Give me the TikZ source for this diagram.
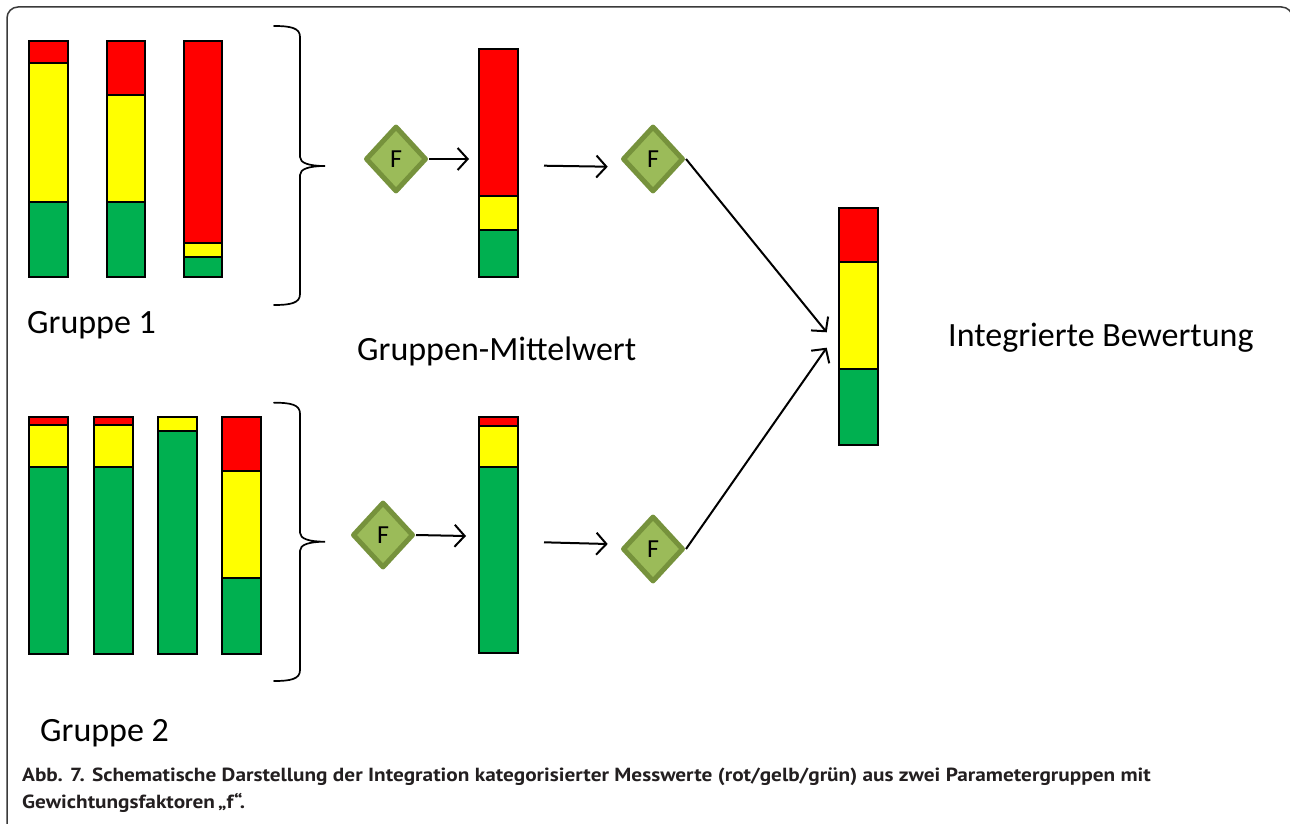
\documentclass[tikz,border=0pt]{standalone}
\usepackage{fontspec}
\setmainfont{Carlito}
\newfontfamily\capfont[FakeStretch=1.12]{PT Sans}
\usetikzlibrary{shapes.geometric,arrows.meta}
\definecolor{cred}{HTML}{FF0000}
\definecolor{cyel}{HTML}{FFFF00}
\definecolor{cgrn}{HTML}{00B050}
\definecolor{dfill}{HTML}{9BBB59}
\definecolor{ddraw}{HTML}{76923C}
\definecolor{framec}{HTML}{3A3A3A}
\definecolor{capc}{HTML}{231F20}
\newcommand\mkbar[7]{%
  \draw[seg,fill=cred] (#2,#4) rectangle (#3,#5);
  \draw[seg,fill=cyel] (#2,#5) rectangle (#3,#6);
  \draw[seg,fill=cgrn] (#2,#6) rectangle (#3,#7);
  \coordinate (#1) at ({(#2+#3)/2},{(#4+#7)/2});
}
\newcommand\mkbrace[3]{%
  \draw[brace] (274,#1) .. controls (291,#1) and (300,{#1+2}) .. (300,{#1+11})
    -- (300,{#2-9}) .. controls (300,{#2-3}) and (309,#2) .. (325,#2)
    .. controls (309,#2) and (300,{#2+3}) .. (300,{#2+9})
    -- (300,{#3-11}) .. controls (300,{#3-2}) and (291,#3) .. (274,#3);
}
\begin{document}
\begin{tikzpicture}[x=1pt,y=-1pt,
  seg/.style={draw=black,line width=1.8pt},
  fac/.style={diamond,draw=ddraw,fill=dfill,line width=5pt,line join=round,
    minimum width=61pt,minimum height=66pt,inner sep=0pt,
    font=\fontsize{26}{30}\selectfont},
  conn/.style={line width=2pt,-{Straight Barb[length=10pt,width=22pt]}},
  lbl/.style={anchor=base west,inner sep=0pt,font=\fontsize{34}{40}\selectfont},
  caplbl/.style={anchor=base west,inner sep=0pt,text=capc,
    font=\capfont\bfseries\fontsize{19}{22}\selectfont},
  brace/.style={line width=1.7pt,line cap=round}
]
\useasboundingbox (0,0) rectangle (1290,824);
\fill[white] (0,0) rectangle (1290,824);
\begin{scope}
\clip (0,0) rectangle (1290,824);
\draw[framec,line width=1.5pt,rounded corners=11pt] (7,900) -- (7,7) -- (1292.5,7) -- (1292.5,900);
\end{scope}

% Gruppe 1
\mkbar{b11}{29}{68}{40.7}{62.7}{202}{277}
\mkbar{b12}{107}{145}{40.7}{94.7}{202}{277}
\mkbar{b13}{184}{222}{40.7}{242.7}{257}{277}
\mkbrace{26}{166}{305}

% Gruppe 2
\mkbar{b21}{29.3}{68.3}{416.7}{425.3}{466.7}{654}
\mkbar{b22}{93.7}{132.7}{416.7}{425.3}{466.7}{654}
\mkbar{b23}{158}{196.7}{416.7}{416.7}{430.7}{654}
\mkbar{b24}{222.3}{261}{416.7}{470.7}{578.3}{654}
\mkbrace{402.7}{541.7}{681}

% Mittelwerte
\mkbar{m1}{479.3}{518.3}{49}{196.3}{230}{277.3}
\mkbar{m2}{479.3}{518.3}{416.7}{425.7}{466.7}{653.3}

% Integrierte Bewertung
\mkbar{ib}{839.3}{878.3}{207.7}{261.7}{369}{445}

% Faktoren
\node[fac] (d1) at (396,159) {F};
\node[fac] (d2) at (653,159) {F};
\node[fac] (d3) at (383,535) {F};
\node[fac] (d4) at (653,549) {F};

\coordinate (m1in) at (469,159);
\coordinate (m1out) at (544,165.7);
\coordinate (d2in) at (607.7,166.7);
\coordinate (m2in) at (466,536);
\coordinate (m2out) at (544,542.3);
\coordinate (d4in) at (607.7,544);
\coordinate (ibin1) at (826.7,332.3);
\coordinate (ibin2) at (826.7,347.7);

\draw[conn] (d1.east) -- (m1in);
\draw[conn] (m1out) -- (d2in);
\draw[conn] (d3.east) -- (m2in);
\draw[conn] (m2out) -- (d4in);
\draw[conn] (d2.east) -- (ibin1);
\draw[conn] (d4.east) -- (ibin2);

% Texte
\node[lbl] (g1) at (27,333.3) {Gruppe 1};
\node[lbl] (gm) at (357,360) {Gruppen-Mittelwert};
\node[lbl] (ibl) at (948,346.7) {Integrierte Bewertung};
\node[lbl] (g2) at (40,741) {Gruppe 2};

\node[caplbl] (cap1) at (22,781) {Abb. 7. Schematische Darstellung der Integration kategorisierter Messwerte (rot/gelb/grün) aus zwei Parametergruppen mit};
\node[caplbl] (cap2) at (22,808) {Gewichtungsfaktoren\,„f“.};
\end{tikzpicture}
\end{document}
